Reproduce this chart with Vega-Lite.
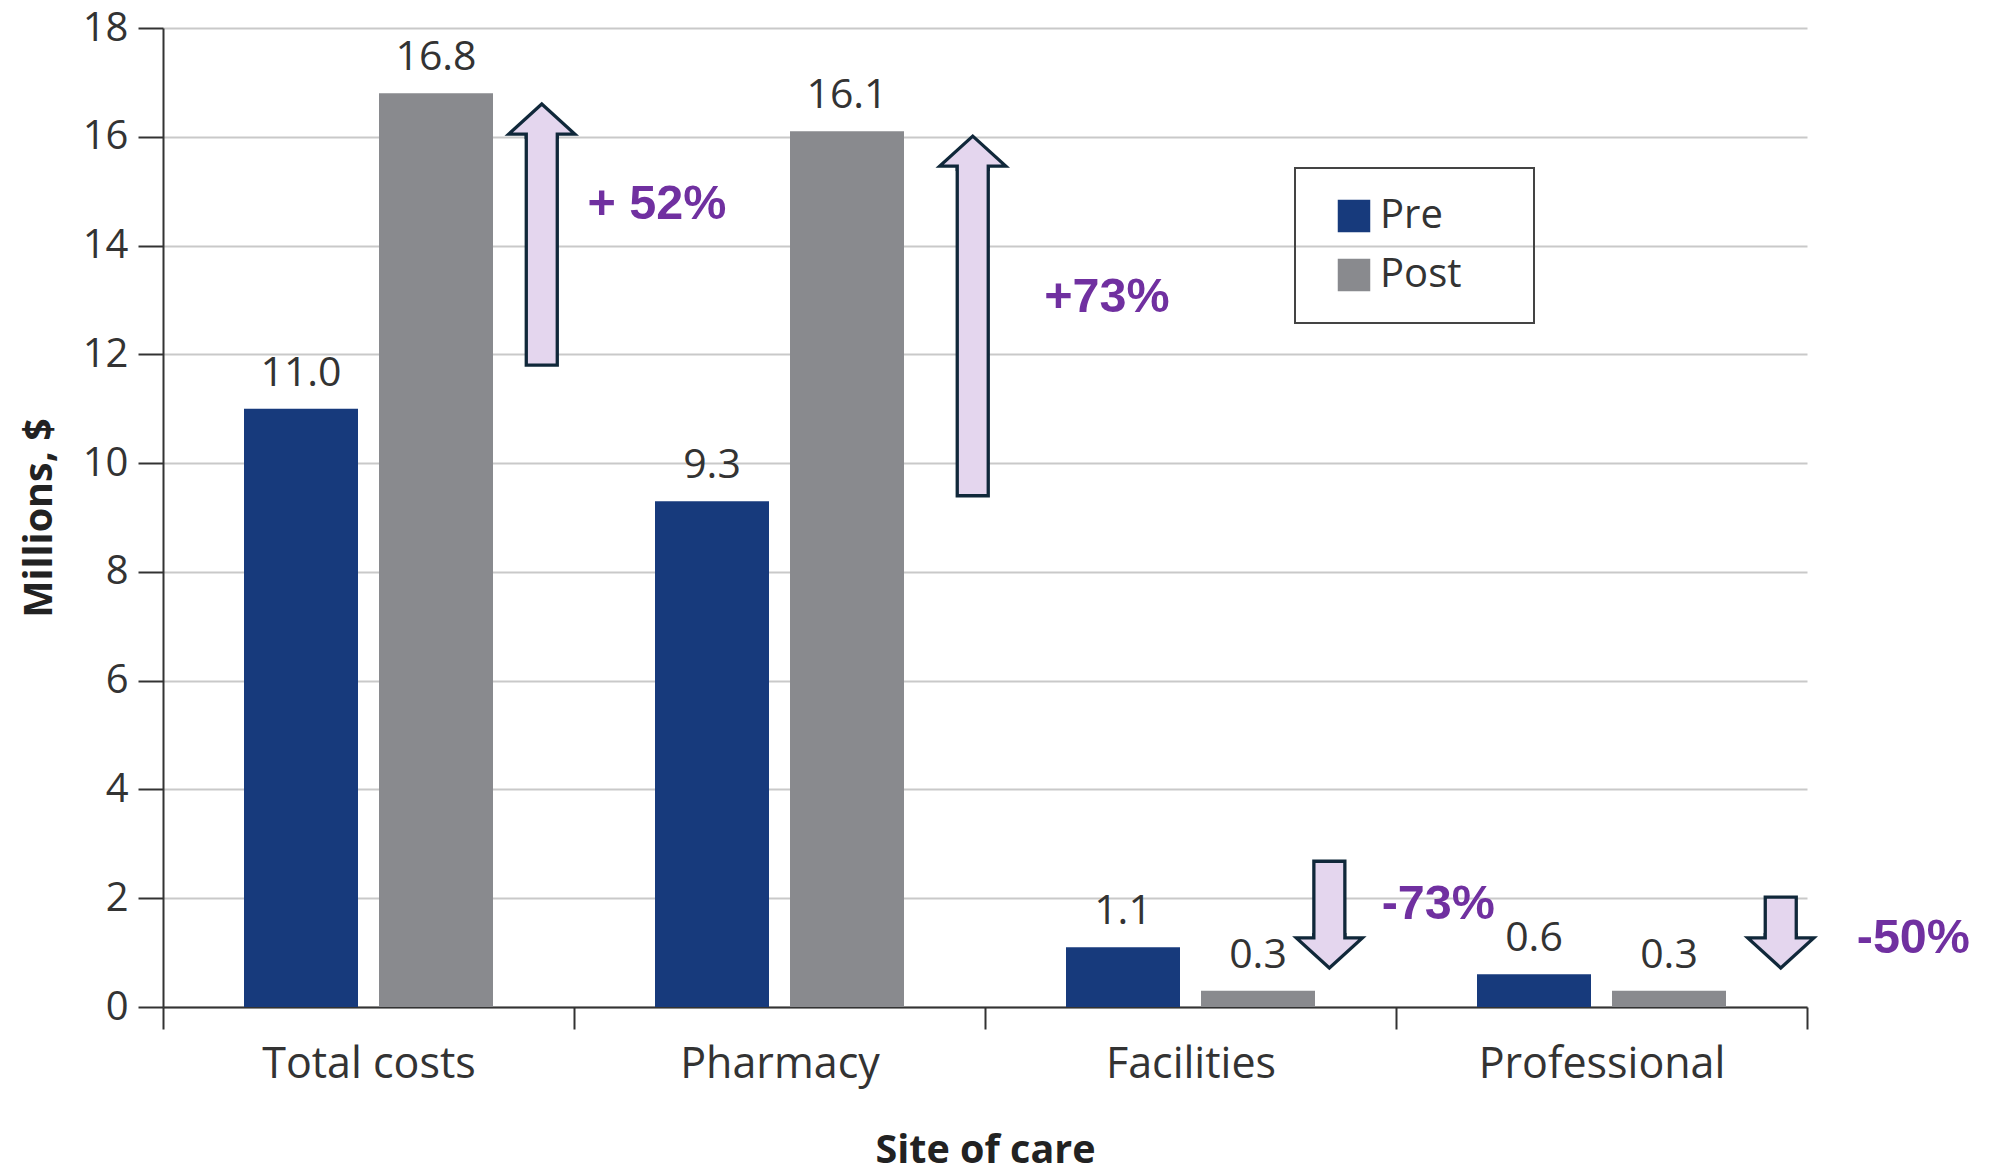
{
  "$schema": "https://vega.github.io/schema/vega-lite/v6.json",
  "autosize": {"type": "none"},
  "width": 1644,
  "height": 979,
  "padding": {"left": 163, "top": 28, "right": 186, "bottom": 162},
  "background": "white",
  "config": {
    "view": {"stroke": null},
    "font": "Open Sans",
    "axis": {
      "labelFont": "Open Sans",
      "titleFont": "Open Sans",
      "labelColor": "#333333",
      "titleColor": "#222222",
      "domainColor": "#333333",
      "tickColor": "#333333",
      "domainWidth": 2,
      "tickWidth": 2,
      "titleFontWeight": "bold",
      "labelLimit": 0
    },
    "legend": {"strokeWidth": 2}
  },
  "datasets": {
    "costs": [
      {"site": "Total costs", "period": "Pre", "millions": 11.0},
      {"site": "Total costs", "period": "Post", "millions": 16.8},
      {"site": "Pharmacy", "period": "Pre", "millions": 9.3},
      {"site": "Pharmacy", "period": "Post", "millions": 16.1},
      {"site": "Facilities", "period": "Pre", "millions": 1.1},
      {"site": "Facilities", "period": "Post", "millions": 0.3},
      {"site": "Professional", "period": "Pre", "millions": 0.6},
      {"site": "Professional", "period": "Post", "millions": 0.3}
    ],
    "changes": [
      {"site": "Total costs", "pos": 0.915, "from": 11.8, "headBase": 16.05, "direction": "up", "label": "+ 52%", "labelPos": 1.027, "labelAt": 14.77},
      {"site": "Pharmacy", "pos": 1.97, "from": 9.4, "headBase": 15.46, "direction": "up", "label": "+73%", "labelPos": 2.145, "labelAt": 13.05},
      {"site": "Facilities", "pos": 2.843, "from": 2.68, "headBase": 1.27, "direction": "down", "label": "-73%", "labelPos": 2.971, "labelAt": 1.9},
      {"site": "Professional", "pos": 3.948, "from": 2.02, "headBase": 1.27, "direction": "down", "label": "-50%", "labelPos": 4.134, "labelAt": 1.26}
    ]
  },
  "layer": [
    {
      "data": {"name": "costs"},
      "encoding": {
        "x": {
          "field": "site",
          "type": "nominal",
          "sort": ["Total costs", "Pharmacy", "Facilities", "Professional"],
          "scale": {"paddingInner": 0, "paddingOuter": 0},
          "title": "Site of care",
          "axis": {
            "tickBand": "extent",
            "tickSize": 22,
            "labelAngle": 0,
            "labelFontSize": 43,
            "labelPadding": 14,
            "titleFontSize": 39.5,
            "titlePadding": 45,
            "grid": false
          }
        },
        "xOffset": {
          "field": "period",
          "sort": ["Pre", "Post"],
          "scale": {"paddingInner": 0.1556, "paddingOuter": 0.6}
        },
        "y": {
          "field": "millions",
          "type": "quantitative",
          "scale": {"domain": [0, 18], "nice": false},
          "title": "Millions, $",
          "axis": {
            "values": [0, 2, 4, 6, 8, 10, 12, 14, 16, 18],
            "tickSize": 25,
            "labelFontSize": 40,
            "labelPadding": 10,
            "titleFontSize": 39.5,
            "titlePadding": 23,
            "grid": true,
            "gridColor": "#c9c9c9",
            "gridWidth": 2
          }
        }
      },
      "layer": [
        {
          "mark": {"type": "bar"},
          "encoding": {
            "color": {
              "field": "period",
              "type": "nominal",
              "scale": {"domain": ["Pre", "Post"], "range": ["#173a7c", "#898a8e"]},
              "legend": {
                "orient": "none",
                "legendX": 1132,
                "legendY": 140,
                "title": " ",
                "titleOrient": "right",
                "titleFontSize": 1,
                "titlePadding": 45,
                "padding": 28,
                "strokeColor": "#444444",
                "symbolType": "square",
                "symbolSize": 1056,
                "symbolStrokeWidth": 0,
                "symbolOffset": 11,
                "labelOffset": 6,
                "labelFont": "Open Sans",
                "labelFontSize": 40,
                "labelColor": "#333333",
                "rowPadding": 19
              }
            }
          }
        },
        {
          "mark": {
            "type": "text",
            "baseline": "alphabetic",
            "dy": -23,
            "font": "Open Sans",
            "fontSize": 41,
            "color": "#333333"
          },
          "encoding": {
            "text": {"field": "millions", "type": "quantitative", "format": ".1f"}
          }
        }
      ]
    },
    {
      "data": {"name": "changes"},
      "encoding": {
        "x": {
          "field": "pos",
          "type": "quantitative",
          "scale": {"domain": [0, 4], "nice": false, "zero": false},
          "axis": null
        }
      },
      "layer": [
        {
          "mark": {
            "type": "bar",
            "width": 31,
            "fill": "#e4d6ee",
            "stroke": "#10283a",
            "strokeWidth": 3.3
          },
          "encoding": {
            "y": {"field": "from", "type": "quantitative", "scale": {"domain": [0, 18], "nice": false}},
            "y2": {"field": "headBase"}
          }
        },
        {
          "mark": {
            "type": "point",
            "filled": true,
            "size": 4356,
            "opacity": 1,
            "fill": "#e4d6ee",
            "stroke": "#10283a",
            "strokeWidth": 3.3,
            "strokeJoin": "miter"
          },
          "encoding": {
            "y": {"field": "headBase", "type": "quantitative"},
            "shape": {
              "field": "direction",
              "type": "nominal",
              "scale": {
                "domain": ["up", "down"],
                "range": [
                  "M0.47,0.15L0.47,0L1,0L0,-0.91L-1,0L-0.47,0L-0.47,0.15",
                  "M0.47,-0.15L0.47,0L1,0L0,0.91L-1,0L-0.47,0L-0.47,-0.15"
                ]
              },
              "legend": null
            }
          }
        },
        {
          "mark": {
            "type": "text",
            "align": "left",
            "baseline": "middle",
            "font": "Liberation Sans",
            "fontWeight": "bold",
            "fontSize": 48.5,
            "color": "#7030a0"
          },
          "encoding": {
            "x": {"field": "labelPos", "type": "quantitative"},
            "y": {"field": "labelAt", "type": "quantitative"},
            "text": {"field": "label"}
          }
        }
      ]
    }
  ],
  "resolve": {"scale": {"x": "independent"}, "axis": {"x": "independent"}}
}
